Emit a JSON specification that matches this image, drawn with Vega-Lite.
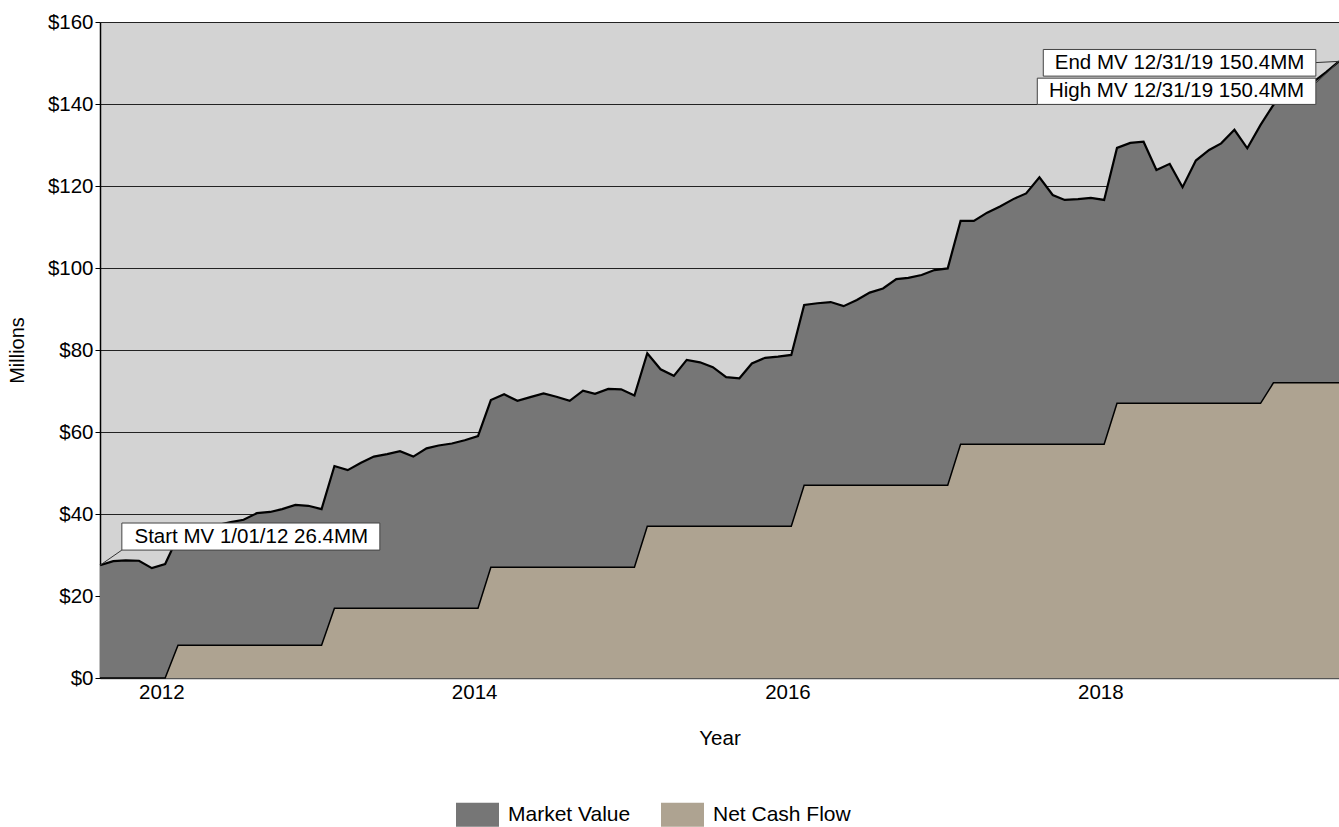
{
  "$schema": "https://vega.github.io/schema/vega-lite/v6.json",
  "width": 1239,
  "height": 656,
  "autosize": "none",
  "padding": {"left": 100, "top": 22, "right": 0, "bottom": 149},
  "background": "white",
  "view": {"fill": "#d3d3d3", "stroke": null},
  "config": {
    "font": "Liberation Sans",
    "axis": {"labelFont": "Liberation Sans", "titleFont": "Liberation Sans", "labelColor": "black", "titleColor": "black", "titleFontWeight": "normal"},
    "legend": {"labelFont": "Liberation Sans"}
  },
  "datasets": {
    "series": [
      {"date": "2012-01-01", "mv": 27.5, "ncf": 0},
      {"date": "2012-02-01", "mv": 28.5, "ncf": 0},
      {"date": "2012-03-01", "mv": 28.7, "ncf": 0},
      {"date": "2012-04-01", "mv": 28.6, "ncf": 0},
      {"date": "2012-05-01", "mv": 26.8, "ncf": 0},
      {"date": "2012-06-01", "mv": 27.8, "ncf": 0},
      {"date": "2012-07-01", "mv": 34.5, "ncf": 8},
      {"date": "2012-08-01", "mv": 35.5, "ncf": 8},
      {"date": "2012-09-01", "mv": 36.5, "ncf": 8},
      {"date": "2012-10-01", "mv": 37.3, "ncf": 8},
      {"date": "2012-11-01", "mv": 38.0, "ncf": 8},
      {"date": "2012-12-01", "mv": 38.6, "ncf": 8},
      {"date": "2013-01-01", "mv": 40.2, "ncf": 8},
      {"date": "2013-02-01", "mv": 40.5, "ncf": 8},
      {"date": "2013-03-01", "mv": 41.2, "ncf": 8},
      {"date": "2013-04-01", "mv": 42.2, "ncf": 8},
      {"date": "2013-05-01", "mv": 42.0, "ncf": 8},
      {"date": "2013-06-01", "mv": 41.2, "ncf": 8},
      {"date": "2013-07-01", "mv": 51.7, "ncf": 17},
      {"date": "2013-08-01", "mv": 50.7, "ncf": 17},
      {"date": "2013-09-01", "mv": 52.5, "ncf": 17},
      {"date": "2013-10-01", "mv": 54.0, "ncf": 17},
      {"date": "2013-11-01", "mv": 54.6, "ncf": 17},
      {"date": "2013-12-01", "mv": 55.3, "ncf": 17},
      {"date": "2014-01-01", "mv": 54.0, "ncf": 17},
      {"date": "2014-02-01", "mv": 56.0, "ncf": 17},
      {"date": "2014-03-01", "mv": 56.7, "ncf": 17},
      {"date": "2014-04-01", "mv": 57.2, "ncf": 17},
      {"date": "2014-05-01", "mv": 58.0, "ncf": 17},
      {"date": "2014-06-01", "mv": 59.0, "ncf": 17},
      {"date": "2014-07-01", "mv": 67.8, "ncf": 27},
      {"date": "2014-08-01", "mv": 69.2, "ncf": 27},
      {"date": "2014-09-01", "mv": 67.6, "ncf": 27},
      {"date": "2014-10-01", "mv": 68.5, "ncf": 27},
      {"date": "2014-11-01", "mv": 69.4, "ncf": 27},
      {"date": "2014-12-01", "mv": 68.6, "ncf": 27},
      {"date": "2015-01-01", "mv": 67.6, "ncf": 27},
      {"date": "2015-02-01", "mv": 70.1, "ncf": 27},
      {"date": "2015-03-01", "mv": 69.3, "ncf": 27},
      {"date": "2015-04-01", "mv": 70.5, "ncf": 27},
      {"date": "2015-05-01", "mv": 70.4, "ncf": 27},
      {"date": "2015-06-01", "mv": 68.9, "ncf": 27},
      {"date": "2015-07-01", "mv": 79.2, "ncf": 37},
      {"date": "2015-08-01", "mv": 75.3, "ncf": 37},
      {"date": "2015-09-01", "mv": 73.7, "ncf": 37},
      {"date": "2015-10-01", "mv": 77.6, "ncf": 37},
      {"date": "2015-11-01", "mv": 77.0, "ncf": 37},
      {"date": "2015-12-01", "mv": 75.8, "ncf": 37},
      {"date": "2016-01-01", "mv": 73.4, "ncf": 37},
      {"date": "2016-02-01", "mv": 73.1, "ncf": 37},
      {"date": "2016-03-01", "mv": 76.7, "ncf": 37},
      {"date": "2016-04-01", "mv": 78.1, "ncf": 37},
      {"date": "2016-05-01", "mv": 78.4, "ncf": 37},
      {"date": "2016-06-01", "mv": 78.8, "ncf": 37},
      {"date": "2016-07-01", "mv": 91.0, "ncf": 47},
      {"date": "2016-08-01", "mv": 91.4, "ncf": 47},
      {"date": "2016-09-01", "mv": 91.7, "ncf": 47},
      {"date": "2016-10-01", "mv": 90.7, "ncf": 47},
      {"date": "2016-11-01", "mv": 92.2, "ncf": 47},
      {"date": "2016-12-01", "mv": 94.0, "ncf": 47},
      {"date": "2017-01-01", "mv": 95.0, "ncf": 47},
      {"date": "2017-02-01", "mv": 97.3, "ncf": 47},
      {"date": "2017-03-01", "mv": 97.6, "ncf": 47},
      {"date": "2017-04-01", "mv": 98.3, "ncf": 47},
      {"date": "2017-05-01", "mv": 99.5, "ncf": 47},
      {"date": "2017-06-01", "mv": 99.9, "ncf": 47},
      {"date": "2017-07-01", "mv": 111.5, "ncf": 57},
      {"date": "2017-08-01", "mv": 111.5, "ncf": 57},
      {"date": "2017-09-01", "mv": 113.5, "ncf": 57},
      {"date": "2017-10-01", "mv": 115.0, "ncf": 57},
      {"date": "2017-11-01", "mv": 116.8, "ncf": 57},
      {"date": "2017-12-01", "mv": 118.2, "ncf": 57},
      {"date": "2018-01-01", "mv": 122.1, "ncf": 57},
      {"date": "2018-02-01", "mv": 117.8, "ncf": 57},
      {"date": "2018-03-01", "mv": 116.6, "ncf": 57},
      {"date": "2018-04-01", "mv": 116.8, "ncf": 57},
      {"date": "2018-05-01", "mv": 117.1, "ncf": 57},
      {"date": "2018-06-01", "mv": 116.6, "ncf": 57},
      {"date": "2018-07-01", "mv": 129.3, "ncf": 67},
      {"date": "2018-08-01", "mv": 130.5, "ncf": 67},
      {"date": "2018-09-01", "mv": 130.8, "ncf": 67},
      {"date": "2018-10-01", "mv": 123.9, "ncf": 67},
      {"date": "2018-11-01", "mv": 125.4, "ncf": 67},
      {"date": "2018-12-01", "mv": 119.7, "ncf": 67},
      {"date": "2019-01-01", "mv": 126.2, "ncf": 67},
      {"date": "2019-02-01", "mv": 128.8, "ncf": 67},
      {"date": "2019-03-01", "mv": 130.4, "ncf": 67},
      {"date": "2019-04-01", "mv": 133.7, "ncf": 67},
      {"date": "2019-05-01", "mv": 129.2, "ncf": 67},
      {"date": "2019-06-01", "mv": 134.9, "ncf": 67},
      {"date": "2019-07-01", "mv": 139.8, "ncf": 72},
      {"date": "2019-08-01", "mv": 142.5, "ncf": 72},
      {"date": "2019-09-01", "mv": 144.0, "ncf": 72},
      {"date": "2019-10-01", "mv": 145.3, "ncf": 72},
      {"date": "2019-11-01", "mv": 147.8, "ncf": 72},
      {"date": "2019-12-01", "mv": 150.4, "ncf": 72}
    ],
    "boxes": [
      {"x": "2012-02-21", "x2": "2013-10-15", "y": 31.2, "y2": 37.8},
      {"x": "2018-01-10", "x2": "2019-10-08", "y": 146.8, "y2": 153.3},
      {"x": "2017-12-27", "x2": "2019-10-08", "y": 139.9, "y2": 146.3}
    ],
    "labels": [
      {"x": "2012-12-19", "y": 34.5, "label": "Start MV 1/01/12 26.4MM"},
      {"x": "2018-11-24", "y": 150.05, "label": "End MV 12/31/19 150.4MM"},
      {"x": "2018-11-17", "y": 143.1, "label": "High MV 12/31/19 150.4MM"}
    ],
    "leaders": [
      {"x": "2012-01-01", "y": 27.5, "x2": "2012-02-21", "y2": 31.2},
      {"x": "2019-10-08", "y": 150.1, "x2": "2019-12-01", "y2": 150.4},
      {"x": "2019-10-08", "y": 145.1, "x2": "2019-12-01", "y2": 150.4}
    ]
  },
  "layer": [
    {
      "data": {"name": "series"},
      "mark": {"type": "area", "opacity": 1},
      "encoding": {
        "x": {
          "field": "date", "type": "temporal", "title": "Year",
          "scale": {"type": "utc", "domain": [{"year": 2012, "month": 1, "date": 1, "utc": true}, {"year": 2019, "month": 12, "date": 1, "utc": true}]},
          "axis": {
            "values": [
              {"year": 2012, "month": 5, "date": 23, "utc": true},
              {"year": 2014, "month": 5, "date": 23, "utc": true},
              {"year": 2016, "month": 5, "date": 23, "utc": true},
              {"year": 2018, "month": 5, "date": 23, "utc": true}
            ],
            "format": "%Y", "grid": false, "ticks": false, "labelFontSize": 20.5, "labelPadding": 4,
            "domainColor": "#555555", "domainWidth": 1.5, "titleFontSize": 20.5, "titlePadding": 26, "labelFlush": false
          }
        },
        "y": {
          "field": "mv", "type": "quantitative", "title": "Millions",
          "scale": {"domain": [0, 160], "nice": false, "zero": true},
          "axis": {
            "values": [0, 20, 40, 60, 80, 100, 120, 140, 160], "format": "$,.0f",
            "labelFontSize": 20.5, "labelPadding": 2, "tickSize": 5, "tickColor": "black",
            "domainColor": "black", "domainWidth": 1.5, "gridColor": "#222222", "gridOpacity": 1, "gridWidth": 1,
            "titleFontSize": 20, "titlePadding": 20
          }
        },
        "color": {
          "datum": "Market Value", "type": "nominal",
          "scale": {"domain": ["Market Value", "Net Cash Flow"], "range": ["#767676", "#aea391"]},
          "legend": {
            "title": null, "orient": "none", "direction": "horizontal", "legendX": 356, "legendY": 771,
            "symbolType": "M-1,-0.56L1,-0.56L1,0.56L-1,0.56Z", "symbolSize": 1849, "symbolStrokeWidth": 0,
            "symbolOpacity": 1, "labelFontSize": 21, "labelColor": "black", "labelOffset": 9, "columnPadding": 30
          }
        }
      }
    },
    {
      "data": {"name": "series"},
      "mark": {"type": "area", "opacity": 1},
      "encoding": {
        "x": {"field": "date", "type": "temporal"},
        "y": {"field": "ncf", "type": "quantitative"},
        "color": {"datum": "Net Cash Flow", "type": "nominal"}
      }
    },
    {
      "data": {"name": "series"},
      "mark": {"type": "line", "color": "black", "strokeWidth": 1.5},
      "encoding": {
        "x": {"field": "date", "type": "temporal"},
        "y": {"field": "ncf", "type": "quantitative"}
      }
    },
    {
      "data": {"name": "series"},
      "mark": {"type": "line", "color": "black", "strokeWidth": 2.2},
      "encoding": {
        "x": {"field": "date", "type": "temporal"},
        "y": {"field": "mv", "type": "quantitative"}
      }
    },
    {
      "data": {"name": "leaders"},
      "mark": {"type": "rule", "color": "#333333", "strokeWidth": 1},
      "encoding": {
        "x": {"field": "x", "type": "temporal"},
        "x2": {"field": "x2"},
        "y": {"field": "y", "type": "quantitative"},
        "y2": {"field": "y2"}
      }
    },
    {
      "data": {"name": "boxes"},
      "mark": {"type": "rect", "fill": "white", "stroke": "#444444", "strokeWidth": 1},
      "encoding": {
        "x": {"field": "x", "type": "temporal"},
        "x2": {"field": "x2"},
        "y": {"field": "y", "type": "quantitative"},
        "y2": {"field": "y2"}
      }
    },
    {
      "data": {"name": "labels"},
      "mark": {"type": "text", "fontSize": 20.5, "color": "black", "align": "center", "baseline": "middle", "font": "Liberation Sans"},
      "encoding": {
        "x": {"field": "x", "type": "temporal"},
        "y": {"field": "y", "type": "quantitative"},
        "text": {"field": "label"}
      }
    }
  ]
}
